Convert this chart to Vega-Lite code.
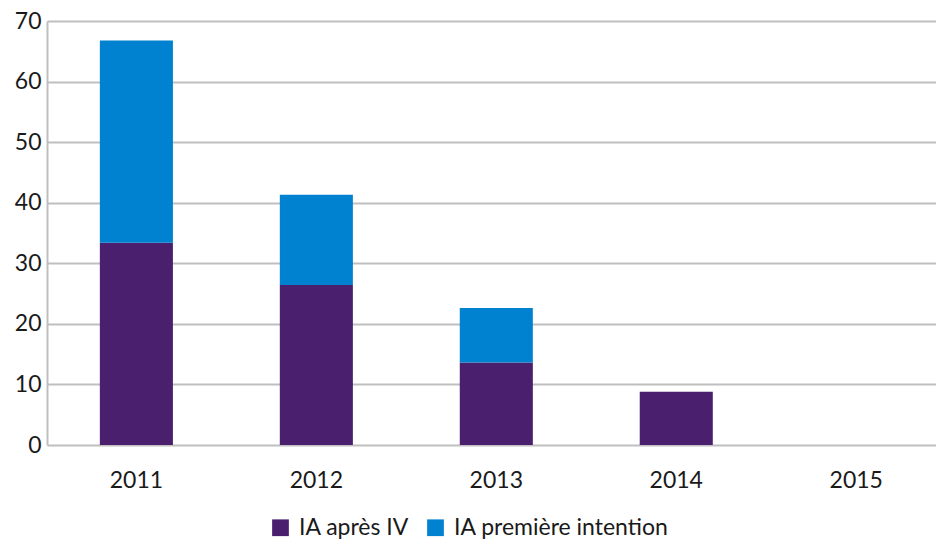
{
  "$schema": "https://vega.github.io/schema/vega-lite/v6.json",
  "width": 889,
  "height": 424,
  "autosize": {"type": "none"},
  "padding": {"left": 47, "top": 21, "right": 0, "bottom": 95},
  "background": "white",
  "config": {
    "view": {"stroke": null},
    "font": "Lato",
    "axis": {"labelFont": "Lato", "labelColor": "#1a1a1a"},
    "legend": {"labelFont": "Lato", "labelColor": "#1a1a1a"}
  },
  "data": {
    "values": [
      {"year": "2011", "series": "IA après IV", "value": 33.4},
      {"year": "2011", "series": "IA première intention", "value": 33.4},
      {"year": "2012", "series": "IA après IV", "value": 26.4},
      {"year": "2012", "series": "IA première intention", "value": 14.9},
      {"year": "2013", "series": "IA après IV", "value": 13.6},
      {"year": "2013", "series": "IA première intention", "value": 9.0},
      {"year": "2014", "series": "IA après IV", "value": 8.8},
      {"year": "2014", "series": "IA première intention", "value": 0},
      {"year": "2015", "series": "IA après IV", "value": 0},
      {"year": "2015", "series": "IA première intention", "value": 0}
    ]
  },
  "mark": {"type": "bar"},
  "encoding": {
    "x": {
      "field": "year",
      "type": "ordinal",
      "scale": {"paddingInner": 0.594, "paddingOuter": 0.267, "align": 0.55},
      "axis": {
        "title": null,
        "labelAngle": 0,
        "labelFontSize": 23,
        "labelPadding": 24,
        "ticks": false,
        "domain": false,
        "grid": false
      }
    },
    "y": {
      "field": "value",
      "type": "quantitative",
      "stack": "zero",
      "scale": {"domain": [0, 70], "nice": false},
      "axis": {
        "title": null,
        "values": [0, 10, 20, 30, 40, 50, 60, 70],
        "labelFontSize": 23,
        "labelPadding": 6,
        "ticks": false,
        "domain": true,
        "domainColor": "#bfbfbf",
        "domainWidth": 2,
        "grid": true,
        "gridColor": "#bfbfbf",
        "gridWidth": 2
      }
    },
    "color": {
      "field": "series",
      "type": "nominal",
      "scale": {
        "domain": ["IA après IV", "IA première intention"],
        "range": ["#4a1f6e", "#0082d0"]
      },
      "legend": {
        "title": null,
        "orient": "none",
        "direction": "horizontal",
        "legendX": 222,
        "legendY": 495,
        "symbolType": "square",
        "symbolSize": 280,
        "symbolStrokeWidth": 0,
        "labelFontSize": 23,
        "labelLimit": 0,
        "labelOffset": 7,
        "columnPadding": 14
      }
    },
    "order": {"field": "series", "sort": "ascending"}
  }
}
